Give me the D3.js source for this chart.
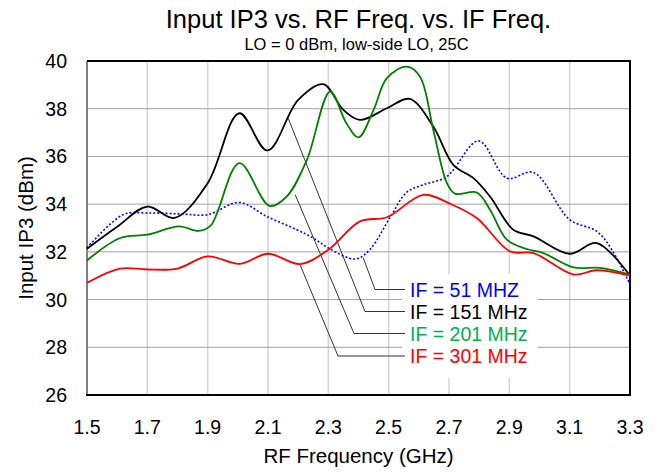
<!DOCTYPE html>
<html>
<head>
<meta charset="utf-8">
<script src="https://cdn.jsdelivr.net/npm/d3@7"></script>
<style>
    body { margin: 0; background: #fff; }
    text { font-family: "Liberation Sans", Arial, sans-serif; fill: #000; }
</style>
</head>
<body>
<div id="chart"></div>
<script>

// Data ///////////////////////////////////////////////////////////////////////

const xTicks = [1.5, 1.7, 1.9, 2.1, 2.3, 2.5, 2.7, 2.9, 3.1, 3.3];
const yTicks = [26, 28, 30, 32, 34, 36, 38, 40];

const if51 = [
    [1.5, 32.16], [1.62, 33.56], [1.7, 33.63], [1.81, 33.59], [1.9, 33.56],
    [2.005, 34.07], [2.095, 33.49], [2.195, 32.93], [2.25, 32.58], [2.3, 32.16],
    [2.39, 31.7], [2.438, 32.1], [2.505, 33.45], [2.56, 34.5], [2.615, 34.81],
    [2.693, 35.16], [2.798, 36.65], [2.892, 35.09], [2.98, 35.33], [3.1, 33.35],
    [3.19, 32.86], [3.24, 32.09], [3.3, 30.63]
];
const if151 = [
    [1.5, 32.13], [1.6, 33.05], [1.7, 33.9], [1.79, 33.42], [1.9, 34.88],
    [2.005, 37.81], [2.098, 36.25], [2.2, 38.37], [2.283, 39.03], [2.35, 37.95],
    [2.405, 37.53], [2.494, 38.02], [2.57, 38.41], [2.648, 37.25], [2.714, 35.65],
    [2.781, 35.09], [2.836, 34.32], [2.913, 32.93], [2.98, 32.65], [3.1, 31.92],
    [3.19, 32.37], [3.3, 31.0]
];
const if201 = [
    [1.5, 31.64], [1.61, 32.58], [1.7, 32.72], [1.805, 33.07], [1.87, 32.88],
    [1.91, 33.1], [2.005, 35.72], [2.105, 33.93], [2.162, 34.32], [2.229, 35.86],
    [2.306, 38.72], [2.36, 37.39], [2.4, 36.8], [2.45, 37.95], [2.494, 39.28],
    [2.56, 39.76], [2.604, 39.34], [2.648, 37.11], [2.693, 34.88], [2.72, 34.44],
    [2.792, 34.49], [2.836, 33.77], [2.892, 32.51], [2.958, 32.12], [3.013, 31.95],
    [3.113, 31.35], [3.2, 31.33], [3.3, 31.05]
];
const if301 = [
    [1.5, 30.7], [1.61, 31.3], [1.7, 31.26], [1.8, 31.3], [1.9, 31.81],
    [2.007, 31.5], [2.1, 31.92], [2.206, 31.49], [2.3, 32.09], [2.405, 33.28],
    [2.494, 33.45], [2.615, 34.39], [2.703, 34.02], [2.792, 33.42], [2.902, 32.02],
    [2.98, 31.95], [3.113, 31.05], [3.19, 31.23], [3.3, 31.0]
];

const seriesNames = ["IF = 51 MHZ", "IF = 151 MHz", "IF = 201 MHz", "IF = 301 MHz"];
const seriesData = [if51, if151, if201, if301];
const lineColors = ["#0000ff", "#000000", "#008000", "#ff0000"];
const labelColors = ["#0000ff", "#000000", "#00b050", "#ff0000"];
// where each leader line touches its curve [freq, dBm]
const leaderAnchors = [[2.416, 31.74], [2.167, 37.6], [2.19, 34.4], [2.206, 31.47]];

const params = {
    width: 656,
    height: 475,
    left: 87,
    right: 630,
    top: 61,
    bottom: 395
};


// Chart //////////////////////////////////////////////////////////////////////

const svg = d3.select("#chart")
    .append("svg")
        .attr("width", params.width)
        .attr("height", params.height)
        .attr("viewBox", [0, 0, params.width, params.height]);

const x = d3.scaleLinear()
    .domain([1.5, 3.3])
    .range([params.left, params.right]);

const y = d3.scaleLinear()
    .domain([26, 40])
    .range([params.bottom, params.top]);

// Grid
svg.append("g")
    .selectAll("line")
    .data(xTicks.slice(1, -1))
    .join("line")
        .attr("x1", d => x(d)).attr("x2", d => x(d))
        .attr("y1", params.top).attr("y2", params.bottom)
        .attr("stroke", "#d4d4d4")
        .attr("stroke-width", 1.5);

svg.append("g")
    .selectAll("line")
    .data(yTicks.slice(1, -1))
    .join("line")
        .attr("x1", params.left).attr("x2", params.right)
        .attr("y1", d => y(d)).attr("y2", d => y(d))
        .attr("stroke", "#a0a0a0")
        .attr("stroke-width", 1);

// Legend background knocks out the grid
svg.append("rect")
    .attr("x", 402)
    .attr("y", 274)
    .attr("width", 136)
    .attr("height", 104)
    .attr("fill", "#fff");

// Frame
svg.append("line")
    .attr("x1", params.left).attr("x2", params.left)
    .attr("y1", params.top).attr("y2", params.bottom)
    .attr("stroke", "#808080").attr("stroke-width", 2);
svg.append("path")
    .attr("d", `M${params.left},${params.top}H${params.right}V${params.bottom}H${params.left - 1}`)
    .attr("fill", "none")
    .attr("stroke", "#000")
    .attr("stroke-width", 2);

// Leader lines
const labelY = [289.5, 311.5, 333.5, 356];
const cornerX = [375, 365, 354, 338];

svg.append("g")
    .selectAll("path")
    .data(leaderAnchors)
    .join("path")
        .attr("d", (d, i) => `M${x(d[0])},${y(d[1])}L${cornerX[i]},${labelY[i]}H405`)
        .attr("fill", "none")
        .attr("stroke", "#333")
        .attr("stroke-width", 1);

// Curves
const line = d3.line()
    .x(d => x(d[0]))
    .y(d => y(d[1]))
    .curve(d3.curveCatmullRom.alpha(0.5));

svg.append("g")
    .selectAll("path")
    .data(seriesData)
    .join("path")
        .attr("d", line)
        .attr("fill", "none")
        .attr("stroke", (d, i) => lineColors[i])
        .attr("stroke-width", (d, i) => i === 0 ? 1.6 : 1.8)
        .attr("stroke-dasharray", (d, i) => i === 0 ? "2,2" : null);

// Legend labels
svg.append("g")
    .selectAll("text")
    .data(seriesNames)
    .join("text")
        .attr("x", 410)
        .attr("y", (d, i) => labelY[i] + 7)
        .attr("font-size", 19.5)
        .style("fill", (d, i) => labelColors[i])
        .text(d => d);

// Tick labels
svg.append("g")
    .selectAll("text")
    .data(xTicks)
    .join("text")
        .attr("x", d => x(d))
        .attr("y", 434)
        .attr("text-anchor", "middle")
        .attr("font-size", 19.5)
        .text(d => d3.format(".1f")(d));

svg.append("g")
    .selectAll("text")
    .data(yTicks)
    .join("text")
        .attr("x", 67)
        .attr("y", d => y(d) + 7)
        .attr("text-anchor", "end")
        .attr("font-size", 19.5)
        .text(d => d);

// Titles
const cx = (params.left + params.right) / 2;

svg.append("text")
    .attr("x", cx)
    .attr("y", 28)
    .attr("text-anchor", "middle")
    .attr("font-size", 25.5)
    .text("Input IP3 vs. RF Freq. vs. IF Freq.");

svg.append("text")
    .attr("x", cx - 2)
    .attr("y", 50)
    .attr("text-anchor", "middle")
    .attr("font-size", 16.5)
    .text("LO = 0 dBm, low-side LO, 25C");

svg.append("text")
    .attr("x", cx)
    .attr("y", 463)
    .attr("text-anchor", "middle")
    .attr("font-size", 20.5)
    .text("RF Frequency (GHz)");

svg.append("text")
    .attr("transform", `translate(33, ${(params.top + params.bottom) / 2}) rotate(-90)`)
    .attr("text-anchor", "middle")
    .attr("font-size", 20.5)
    .text("Input IP3 (dBm)");

</script>
</body>
</html>
